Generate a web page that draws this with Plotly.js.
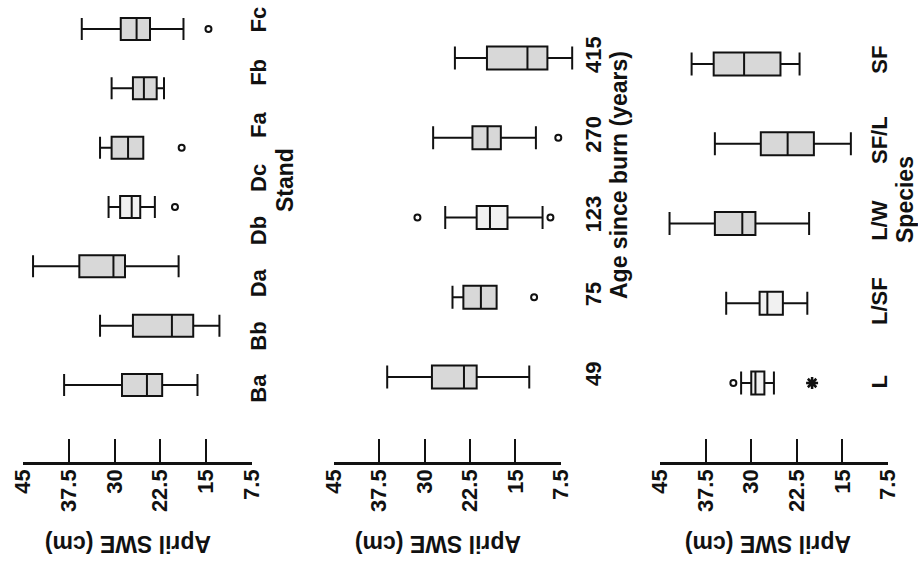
<!DOCTYPE html>
<html><head><meta charset="utf-8">
<script src="https://cdn.plot.ly/plotly-3.0.1.min.js"></script>
<style>html,body{margin:0;padding:0;background:#fff}#chart{width:918px;height:563px}</style>
</head><body><div id="chart"></div>
<script>
// ---------- Panel 1: Stand (8 labels, 7 boxes drawn) ----------
const standLabels   = ['Ba','Bb','Da','Db','Dc','Fa','Fb','Fc'];
const standBoxNames = ['Ba','Bb','Da','Db','Fa','Fb','Fc'];
const standUpper  = [38.3, 32.4, 43.4, 31.0, 32.4, 30.5, 35.4];
const standQ3     = [28.8, 27.0, 35.8, 29.1, 30.5, 27.0, 29.0];
const standMedian = [24.7, 20.6, 30.2, 27.2, 27.8, 25.2, 26.4];
const standQ1     = [22.2, 17.1, 28.3, 25.8, 25.3, 23.1, 24.2];
const standLower  = [16.4, 12.8, 19.5, 23.4, 25.3, 21.9, 18.7];
const standOutlierBox   = ['Db','Fa','Fc'];
const standOutlierValue = [20.1, 19.0, 14.6];

// ---------- Panel 2: Age since burn (years) ----------
const ageLabels = ['49','75','123','270','415'];
const ageUpper  = [36.2, 25.4, 26.6, 28.6, 25.0];
const ageQ3     = [28.8, 23.6, 21.4, 22.1, 19.7];
const ageMedian = [23.5, 20.7, 19.2, 19.6, 13.0];
const ageQ1     = [21.4, 18.1, 16.3, 17.4, 9.7];
const ageLower  = [12.7, 18.1, 10.5, 11.6, 5.6];
const ageOutlierBox   = ['75','123','123','270'];
const ageOutlierValue = [11.9, 31.2, 9.2, 7.9];

// ---------- Panel 3: Species ----------
const speciesLabels = ['L','L/SF','L/W','SF/L','SF'];
const speciesUpper  = [31.4, 33.9, 43.4, 35.8, 39.7];
const speciesQ3     = [29.7, 28.3, 35.8, 28.1, 36.0];
const speciesMedian = [29.0, 27.0, 31.2, 23.6, 30.9];
const speciesQ1     = [27.5, 24.4, 29.0, 19.2, 24.8];
const speciesLower  = [25.9, 20.3, 20.0, 13.0, 21.6];
const speciesOutlierBox   = ['L'];
const speciesOutlierValue = [32.7];
const speciesExtremeBox   = ['L'];
const speciesExtremeValue = [19.5];

const valueTicks = [45, 37.5, 30, 22.5, 15, 7.5];
const valueTickText = ['45','37.5','30','22.5','15','7.5'];
const valueTitle = 'April SWE (cm)';

// ---------- styles (box shading as in the scan) ----------
const DARK = '#d8d8d8', PALE = '#f1f1f1';
const standShade   = [DARK, DARK, DARK, PALE, DARK, DARK, DARK];
const ageShade     = [DARK, DARK, PALE, DARK, DARK];
const speciesShade = [PALE, PALE, DARK, DARK, DARK];

// ---------- layout helpers (pixels -> paper) ----------
const W = 918, H = 563;
const px = v => v / W;
const py = v => 1 - v / H;
const DOM_TOP = 0, DOM_BOT = 420;
function posRange(n, pFirst, pLast) {
  const ppu = (pFirst - pLast) / (n - 1);
  return [-(DOM_BOT - pFirst) / ppu, (n - 1) + (pLast - DOM_TOP) / ppu];
}
const FONT = {family: 'Liberation Sans, Arial, sans-serif', size: 22, color: '#111', weight: 700};

const panels = [
  {names: standBoxNames, labels: standLabels, up: standUpper, q3: standQ3, med: standMedian, q1: standQ1, lo: standLower,
   outBox: standOutlierBox, outVal: standOutlierValue, extBox: [], extVal: [], shade: standShade,
   x45: 23.3, x75: 251.7, boxFirst: 385, boxLast: 29, labFirst: 392, labLast: 23, labAxis: 243, boxW: 0.37,
   title: 'Stand', tx: 285, ty: 180, vtx: 128},
  {names: ageLabels, labels: ageLabels, up: ageUpper, q3: ageQ3, med: ageMedian, q1: ageQ1, lo: ageLower,
   outBox: ageOutlierBox, outVal: ageOutlierValue, extBox: [], extVal: [], shade: ageShade,
   x45: 334, x75: 560.7, boxFirst: 377, boxLast: 58, labFirst: 377, labLast: 58, labAxis: 578, boxW: 0.29,
   title: 'Age since burn (years)', tx: 619, ty: 175, vtx: 438.5},
  {names: speciesLabels, labels: speciesLabels, up: speciesUpper, q3: speciesQ3, med: speciesMedian, q1: speciesQ1, lo: speciesLower,
   outBox: speciesOutlierBox, outVal: speciesOutlierValue, extBox: speciesExtremeBox, extVal: speciesExtremeValue, shade: speciesShade,
   x45: 660, x75: 888, boxFirst: 383, boxLast: 64, labFirst: 385, labLast: 63, labAxis: 864, boxW: 0.29,
   title: 'Species', tx: 905, ty: 200, vtx: 768}
];

const data = [];
const layout = {
  width: W, height: H, margin: {l: 0, r: 0, t: 0, b: 0},
  paper_bgcolor: '#fff', plot_bgcolor: 'rgba(0,0,0,0)',
  showlegend: false, font: FONT, annotations: []
};

panels.forEach((p, i) => {
  const a = i + 1, d = i + 4;
  const ppu = (p.x75 - p.x45) / 37.5;
  const extra = 35;
  p.names.forEach((n, k) => {
    data.push({
      type: 'box', orientation: 'h', xaxis: 'x' + a, yaxis: 'y' + a, name: n,
      y: [k], q1: [p.q1[k]], median: [p.med[k]], q3: [p.q3[k]], lowerfence: [p.lo[k]], upperfence: [p.up[k]],
      boxpoints: false, width: p.boxW, whiskerwidth: 1,
      fillcolor: p.shade[k], line: {color: '#111', width: 2}, hoverinfo: 'x'
    });
  });
  data.push({
    type: 'scatter', mode: 'markers', xaxis: 'x' + a, yaxis: 'y' + a, cliponaxis: false,
    x: p.outVal, y: p.outBox.map(n => p.names.indexOf(n)),
    marker: {symbol: 'circle-open', size: 6, color: '#111', line: {width: 2}}
  });
  if (p.extVal.length) data.push({
    type: 'scatter', mode: 'markers', xaxis: 'x' + a, yaxis: 'y' + a, cliponaxis: false,
    x: p.extVal, y: p.extBox.map(n => p.names.indexOf(n)),
    marker: {symbol: 'asterisk-open', size: 10, color: '#111', line: {width: 2.5, color: '#111'}}
  });
  // carrier for the visible value axis and category label axis
  data.push({type: 'scatter', mode: 'markers', xaxis: 'x' + d, yaxis: 'y' + d,
    x: [45, 7.5], y: [0, 0], marker: {opacity: 0}, hoverinfo: 'skip'});

  layout['xaxis' + a] = {domain: [px(p.x45), px(p.x75 + extra)], range: [45, 7.5 - extra / ppu],
    visible: false, anchor: 'y' + a};
  layout['yaxis' + a] = {domain: [py(DOM_BOT), py(DOM_TOP)], range: posRange(p.names.length, p.boxFirst, p.boxLast),
    visible: false, anchor: 'x' + a};
  layout['xaxis' + d] = {domain: [px(p.x45), px(p.x75)], range: [45, 7.5], anchor: 'free', position: py(463),
    showline: true, linewidth: 2.5, linecolor: '#111', ticks: 'inside', ticklen: 23, tickwidth: 2, tickcolor: '#111',
    tickmode: 'array', tickvals: valueTicks, ticktext: valueTickText, tickangle: -90, ticklabelstandoff: -4,
    showgrid: false, zeroline: false, tickfont: FONT, fixedrange: true};
  layout['yaxis' + d] = {domain: [py(DOM_BOT), py(DOM_TOP)], range: posRange(p.labels.length, p.labFirst, p.labLast),
    anchor: 'free', position: px(p.labAxis), side: 'right', showline: false, ticks: '',
    tickmode: 'array', tickvals: p.labels.map((_, k) => k), ticktext: p.labels, tickangle: -90,
    showgrid: false, zeroline: false, tickfont: FONT, fixedrange: true};

  layout.annotations.push({text: valueTitle, xref: 'paper', yref: 'paper', x: px(p.vtx), y: py(544),
    xanchor: 'center', yanchor: 'middle', textangle: 180, showarrow: false, font: Object.assign({}, FONT, {size: 23})});
  layout.annotations.push({text: p.title, xref: 'paper', yref: 'paper', x: px(p.tx), y: py(p.ty),
    xanchor: 'center', yanchor: 'middle', textangle: -90, showarrow: false, font: Object.assign({}, FONT, {size: 23})});
});

Plotly.newPlot('chart', data, layout, {displayModeBar: false, staticPlot: true});
</script></body></html>
